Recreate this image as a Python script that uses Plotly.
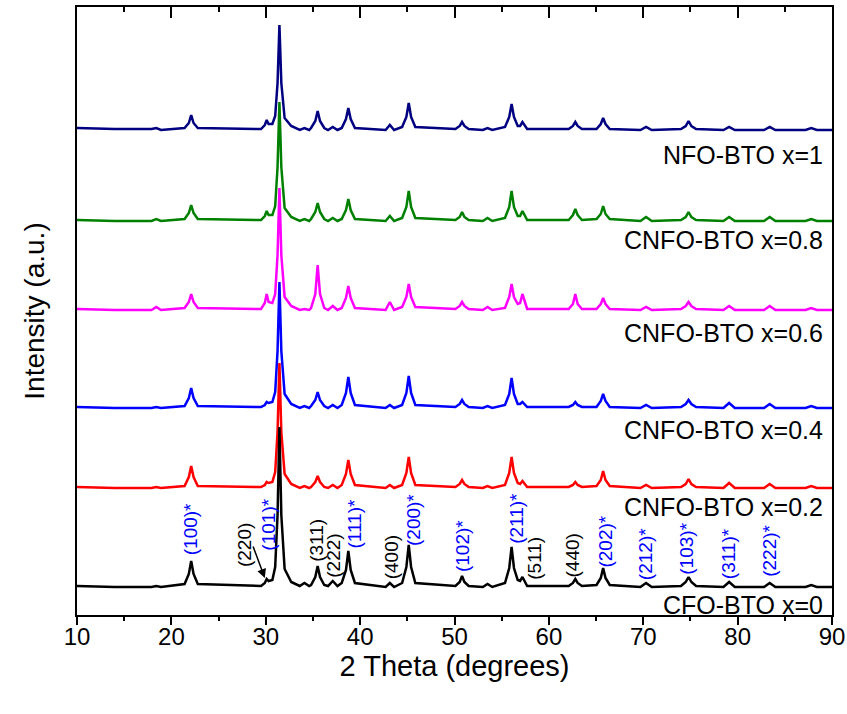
import plotly.graph_objects as go

# ---------------- data ----------------
two_theta = [
    10, 14,
    17.9, 18.4, 18.9,
    21.4, 21.85, 22.1, 22.35, 22.8,
    29.5, 29.9, 30.1, 30.3, 30.7, 31.0, 31.25, 31.45, 31.65, 32.0, 32.7,
    33.6, 34.1, 34.6,
    34.8, 35.25, 35.5, 35.75, 36.2,
    36.6, 37.1, 37.6,
    38.05, 38.5, 38.75, 39.0, 39.45,
    42.7, 43.15, 43.6,
    44.45, 44.9, 45.15, 45.4, 45.85,
    50.1, 50.55, 50.8, 51.05, 51.5,
    53.0, 53.5, 54.0,
    55.35, 55.8, 56.05, 56.3, 56.7, 56.95, 57.2, 57.7,
    62.1, 62.55, 62.8, 63.05, 63.5,
    65.05, 65.5, 65.75, 66.0, 66.45,
    69.7, 70.3, 70.9,
    74.0, 74.5, 74.8, 75.1, 75.6,
    78.5, 79.1, 79.7,
    82.8, 83.4, 84.0,
    87.2, 87.8, 88.4,
    90,
]

cfo_x0 = [
    1, 0,
    0, 1, 0,
    3, 13, 26, 13, 3,
    1, 4, 8, 6, 7, 20, 72, 160, 72, 18, 5,
    1, 4, 1,
    2, 10, 21, 10, 2,
    1, 6, 1,
    4, 17, 36, 17, 4,
    0, 4, 0,
    4, 20, 42, 20, 4,
    1, 5, 11, 5, 1,
    0, 3, 0,
    4, 19, 40, 19, 7, 6, 10, 1,
    1, 4, 8, 4, 1,
    2, 9, 19, 9, 2,
    0, 4, 0,
    1, 5, 10, 5, 1,
    0, 5, 0,
    0, 4, 0,
    0, 2, 0,
    0,
]

cnfo_x02 = [
    1, 0,
    0, 1, 0,
    2, 11, 22, 11, 2,
    1, 3, 6, 5, 6, 16, 56, 125, 56, 14, 4,
    0, 2, 0,
    1, 6, 12, 6, 1,
    0, 3, 0,
    3, 14, 28, 14, 3,
    0, 3, 0,
    3, 15, 31, 15, 3,
    1, 4, 8, 4, 1,
    0, 2, 0,
    3, 15, 31, 15, 5, 4, 7, 1,
    1, 3, 6, 3, 1,
    2, 8, 17, 8, 2,
    0, 3, 0,
    1, 4, 9, 4, 1,
    0, 5, 0,
    0, 4, 0,
    0, 2, 0,
    0,
]

cnfo_x04 = [
    1, 0,
    0, 1, 0,
    2, 10, 20, 10, 2,
    1, 3, 6, 5, 6, 16, 57, 126, 57, 14, 4,
    0, 2, 0,
    2, 8, 16, 8, 2,
    0, 3, 0,
    3, 15, 31, 15, 3,
    0, 3, 0,
    3, 15, 32, 15, 3,
    1, 4, 8, 4, 1,
    0, 2, 0,
    3, 14, 30, 14, 4, 4, 6, 1,
    1, 3, 6, 3, 1,
    1, 7, 14, 7, 1,
    0, 3, 0,
    1, 4, 8, 4, 1,
    0, 5, 0,
    0, 4, 0,
    0, 2, 0,
    0,
]

cnfo_x06 = [
    1, 0,
    0, 3, 0,
    2, 8, 16, 8, 2,
    1, 7, 16, 8, 7, 16, 55, 122, 55, 13, 4,
    0, 1, 0,
    2, 16, 45, 16, 2,
    0, 4, 0,
    2, 12, 24, 12, 2,
    0, 8, 0,
    3, 13, 26, 13, 3,
    1, 4, 8, 4, 1,
    0, 3, 0,
    2, 13, 26, 13, 6, 7, 16, 1,
    1, 6, 16, 6, 1,
    1, 6, 12, 6, 1,
    0, 3, 0,
    1, 4, 8, 4, 1,
    0, 4, 0,
    0, 4, 0,
    0, 2, 0,
    0,
]

cnfo_x08 = [
    1, 0,
    0, 2, 0,
    2, 8, 16, 8, 2,
    1, 5, 10, 6, 6, 15, 54, 119, 54, 13, 4,
    0, 2, 0,
    2, 9, 18, 9, 2,
    0, 3, 0,
    2, 11, 22, 11, 2,
    0, 5, 0,
    3, 14, 30, 14, 3,
    1, 4, 9, 4, 1,
    0, 3, 0,
    3, 14, 30, 14, 5, 5, 10, 1,
    1, 6, 12, 6, 1,
    2, 7, 15, 7, 2,
    0, 4, 0,
    1, 4, 9, 4, 1,
    0, 4, 0,
    0, 4, 0,
    0, 2, 0,
    0,
]

nfo_x1 = [
    2, 1,
    1, 2, 0,
    2, 7, 15, 7, 2,
    1, 5, 10, 6, 6, 14, 47, 105, 47, 12, 4,
    0, 2, 0,
    2, 9, 19, 9, 2,
    0, 3, 0,
    2, 11, 22, 11, 2,
    0, 5, 0,
    3, 13, 27, 13, 3,
    1, 4, 8, 4, 1,
    0, 2, 0,
    3, 13, 26, 13, 4, 4, 8, 1,
    1, 4, 8, 4, 1,
    1, 6, 12, 6, 1,
    0, 3, 0,
    1, 4, 9, 4, 1,
    0, 3, 0,
    0, 3, 0,
    0, 2, 0,
    0,
]

series_names = ["NFO-BTO x=1", "CNFO-BTO x=0.8", "CNFO-BTO x=0.6",
                "CNFO-BTO x=0.4", "CNFO-BTO x=0.2", "CFO-BTO x=0"]
series_values = [nfo_x1, cnfo_x08, cnfo_x06, cnfo_x04, cnfo_x02, cfo_x0]
series_offsets = [485, 394, 305, 207, 127, 28]
series_colors = ["#000080", "#008000", "#FF00FF", "#0000FF", "#FF0000", "#000000"]
series_label_y = [460, 375, 282, 185, 108, 10]

# Miller indices: BaTiO3 (blue, *) and ferrite (black)
hkl_labels = ["(100)*", "(101)*", "(111)*", "(200)*", "(102)*", "(211)*",
              "(202)*", "(212)*", "(103)*", "(311)*", "(222)*",
              "(220)", "(311)", "(222)", "(400)", "(511)", "(440)"]
hkl_x = [22.0, 30.2, 39.3, 45.6, 50.8, 56.5, 65.9, 70.2, 74.5, 79.0, 83.3,
         27.7, 35.3, 37.1, 43.3, 58.4, 62.5]
hkl_y = [86, 90, 91, 95, 69, 97, 73, 61, 66, 61, 64,
         70, 75, 59, 58, 57, 60]
hkl_bto = [True] * 11 + [False] * 6

x_range = [10, 90]
y_range = [0, 608]

FONT = "Arial, 'Liberation Sans', sans-serif"

for v in series_values:
    assert len(v) == len(two_theta)

fig = go.Figure()
for name, vals, off, col in zip(series_names, series_values, series_offsets, series_colors):
    fig.add_trace(go.Scatter(
        x=two_theta, y=[val + off for val in vals], mode="lines", name=name,
        line=dict(color=col, width=2.5), showlegend=False, hoverinfo="skip"))

# invisible helper trace for the top axis
fig.add_trace(go.Scatter(x=x_range, y=[None, None], xaxis="x2", mode="lines",
                         showlegend=False, hoverinfo="skip"))

for name, ly in zip(series_names, series_label_y):
    fig.add_annotation(x=89.3, y=ly, text=name, showarrow=False, xanchor="right",
                       yanchor="middle", font=dict(family=FONT, size=25, color="black"))

for lab, hx, hy, bto in zip(hkl_labels, hkl_x, hkl_y, hkl_bto):
    fig.add_annotation(x=hx, y=hy, text=lab, showarrow=False, textangle=-90,
                       xanchor="center", yanchor="middle",
                       font=dict(family=FONT, size=19, color="#0000FF" if bto else "black"))

# arrow from (220) label to the shoulder
fig.add_annotation(x=29.9, y=37, ax=28.6, ay=70, axref="x", ayref="y", text="",
                   showarrow=True, arrowhead=2, arrowsize=1.2, arrowwidth=1.5,
                   arrowcolor="black")

fig.update_layout(
    width=847, height=714,
    margin=dict(l=77, r=15, t=7, b=99, autoexpand=False),
    paper_bgcolor="white", plot_bgcolor="white",
    font=dict(family=FONT, color="black"),
    xaxis=dict(range=x_range, dtick=10, tick0=10, ticks="outside", ticklen=8,
               tickwidth=2, tickcolor="black", automargin=False,
               ticklabelstandoff=-9,
               minor=dict(dtick=5, ticks="outside", ticklen=4, tickwidth=2, tickcolor="black"),
               showline=True, linewidth=2, linecolor="black", mirror=True,
               showgrid=False, zeroline=False,
               tickfont=dict(family=FONT, size=24, color="black"),
               title=dict(text="2 Theta (degrees)", standoff=2,
                          font=dict(family=FONT, size=29, color="black"))),
    xaxis2=dict(range=x_range, matches="x", overlaying="x", side="top",
                dtick=10, tick0=10, ticks="inside", ticklen=11, tickwidth=2,
                tickcolor="black", automargin=False,
                minor=dict(dtick=5, ticks="inside", ticklen=5, tickwidth=2, tickcolor="black"),
                showticklabels=False, showline=False, showgrid=False, zeroline=False),
    yaxis=dict(range=y_range, showticklabels=False, ticks="", showline=True,
               linewidth=2, linecolor="black", mirror=True, showgrid=False,
               zeroline=False, automargin=False,
               title=dict(text="Intensity (a.u.)", standoff=22,
                          font=dict(family=FONT, size=28, color="black"))),
)

fig.write_html("out.html", config={"displayModeBar": False},
               post_script="document.body.style.margin='0px';")
